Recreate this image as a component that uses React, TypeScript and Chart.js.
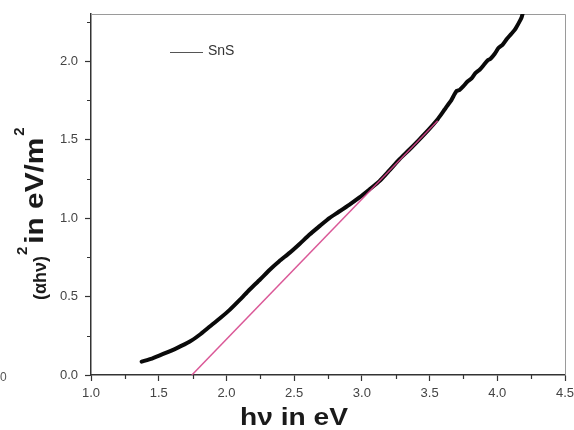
import React, { useEffect, useRef } from "react";
import { Chart, registerables } from "chart.js";

Chart.register(...registerables);

// photon energy hν (eV)
const energy = [
  1.374, 1.45, 1.533, 1.63, 1.73, 1.8, 1.877, 1.95, 2.024, 2.1, 2.17, 2.25, 2.32, 2.39,
  2.466, 2.54, 2.614, 2.69, 2.76, 2.83, 2.909, 2.98, 3.056, 3.13, 3.2, 3.277, 3.35,
  3.424, 3.49, 3.56, 3.59, 3.61, 3.63, 3.66, 3.685, 3.7, 3.72, 3.75, 3.78, 3.81, 3.84,
  3.87, 3.9, 3.93, 3.95, 3.98, 4.01, 4.04, 4.07, 4.1, 4.13, 4.16, 4.18, 4.19,
];
// (αhν)^2 values
const absorb = [
  0.085, 0.105, 0.134, 0.17, 0.213, 0.255, 0.309, 0.36, 0.415, 0.48, 0.543, 0.61, 0.671,
  0.725, 0.778, 0.835, 0.895, 0.95, 1.0, 1.04, 1.086, 1.13, 1.182, 1.235, 1.3, 1.374,
  1.435, 1.5, 1.56, 1.63, 1.665, 1.69, 1.715, 1.75, 1.79, 1.81, 1.815, 1.84, 1.87, 1.89,
  1.925, 1.945, 1.975, 2.005, 2.015, 2.045, 2.085, 2.105, 2.14, 2.17, 2.2, 2.245, 2.28, 2.31,
];
// linear fit (Tauc extrapolation)
const fitX = [1.745, 3.56];
const fitY = [0, 1.62];

const xTicks = [1.0, 1.5, 2.0, 2.5, 3.0, 3.5, 4.0, 4.5];
const yTicks = [0.0, 0.5, 1.0, 1.5, 2.0];
const xMinor = [1.25, 1.75, 2.25, 2.75, 3.25, 3.75, 4.25];
const yMinor = [0.25, 0.75, 1.25, 1.75, 2.25];

const seriesLabel = "SnS";
const xTitle = "hν in eV";

const FONT = "'Liberation Sans', Arial, sans-serif";

function stretchText(ctx: any, text: string, x: number, y: number, targetW: number) {
  const w = ctx.measureText(text).width;
  const s = targetW / w;
  ctx.save();
  ctx.translate(x, y);
  ctx.scale(s, 1);
  ctx.fillText(text, 0, 0);
  ctx.restore();
  return targetW;
}

const decorPlugin = {
  id: "decor",
  beforeDatasetsDraw(chart: any) {
    const { ctx, chartArea: a } = chart;
    ctx.save();
    ctx.strokeStyle = "#9a9a9a";
    ctx.lineWidth = 1;
    ctx.beginPath();
    ctx.moveTo(a.left, a.top + 0.5);
    ctx.lineTo(a.right + 0.5, a.top + 0.5);
    ctx.lineTo(a.right + 0.5, a.bottom);
    ctx.stroke();
    ctx.restore();
  },
  afterDraw(chart: any) {
    const { ctx, chartArea: a, scales } = chart;
    const xs = scales.x;
    const ys = scales.y;
    ctx.save();
    // minor ticks
    ctx.strokeStyle = "#333";
    ctx.lineWidth = 1.2;
    ctx.beginPath();
    xMinor.forEach((v) => {
      const px = Math.round(xs.getPixelForValue(v)) + 0.5;
      ctx.moveTo(px, a.bottom);
      ctx.lineTo(px, a.bottom + 4);
    });
    yMinor.forEach((v) => {
      const py = Math.round(ys.getPixelForValue(v)) + 0.5;
      ctx.moveTo(a.left, py);
      ctx.lineTo(a.left - 4, py);
    });
    ctx.stroke();

    // legend
    ctx.strokeStyle = "#555";
    ctx.lineWidth = 1;
    ctx.beginPath();
    ctx.moveTo(170, 52.5);
    ctx.lineTo(203, 52.5);
    ctx.stroke();
    ctx.fillStyle = "#333";
    ctx.font = `14px ${FONT}`;
    ctx.textBaseline = "middle";
    ctx.textAlign = "left";
    ctx.fillText(seriesLabel, 208, 51);

    // x title
    ctx.fillStyle = "#1a1a1a";
    ctx.font = `bold 24px ${FONT}`;
    ctx.textAlign = "left";
    ctx.textBaseline = "alphabetic";
    stretchText(ctx, xTitle, 240, 425, 108);

    // y title (rotated)
    ctx.save();
    ctx.translate(43, 300);
    ctx.rotate(-Math.PI / 2);
    ctx.textAlign = "left";
    let x = 0;
    ctx.font = `bold 18px ${FONT}`;
    x += stretchText(ctx, "(αhν)", x, 3, 44);
    x += 1;
    ctx.font = `bold 15px ${FONT}`;
    ctx.fillText("2", x, -16);
    x += ctx.measureText("2").width + 3;
    ctx.font = `bold 26px ${FONT}`;
    x += stretchText(ctx, "in eV/m", x, 0, 106);
    x += 2;
    ctx.font = `bold 15px ${FONT}`;
    ctx.fillText("2", x, -19);
    ctx.restore();

    // cropped stray label at left edge
    ctx.fillStyle = "#555";
    ctx.font = `12px ${FONT}`;
    ctx.textAlign = "left";
    ctx.textBaseline = "middle";
    ctx.fillText("0", 0, 378);
    ctx.restore();
  },
};

export default function App() {
  const ref = useRef<HTMLCanvasElement>(null);
  useEffect(() => {
    if (!ref.current) return;
    const chart = new Chart(ref.current, {
      type: "line",
      data: {
        datasets: [
          {
            label: "fit",
            data: fitX.map((v, i) => ({ x: v, y: fitY[i] })),
            borderColor: "rgba(214,70,140,0.9)",
            borderWidth: 1.5,
            pointRadius: 0,
            tension: 0,
            order: 0,
          },
          {
            label: seriesLabel,
            data: energy.map((v, i) => ({ x: v, y: absorb[i] })),
            borderColor: "#0a0a0a",
            borderWidth: 4,
            pointRadius: 0,
            tension: 0.2,
            borderCapStyle: "round",
            borderJoinStyle: "round",
            order: 1,
          },
        ],
      },
      options: {
        animation: false,
        responsive: false,
        maintainAspectRatio: false,
        layout: { padding: { top: 14, right: 9, left: 0, bottom: 0 } },
        plugins: { legend: { display: false }, tooltip: { enabled: false } },
        scales: {
          x: {
            type: "linear",
            min: 1.0,
            max: 4.5,
            afterBuildTicks: (s: any) => {
              s.ticks = xTicks.map((v) => ({ value: v }));
            },
            afterFit: (s: any) => {
              s.height = 55;
              s.paddingLeft = 0;
              s.paddingRight = 0;
            },
            ticks: {
              callback: (v: any) => Number(v).toFixed(1),
              color: "#444",
              font: { size: 13, family: FONT },
              padding: 5,
              maxRotation: 0,
            },
            grid: { drawOnChartArea: false, drawTicks: true, tickLength: 6, color: "#333", tickWidth: 1.2 },
            border: { display: true, color: "#333", width: 1.5 },
          },
          y: {
            type: "linear",
            min: 0,
            max: 2.3,
            afterBuildTicks: (s: any) => {
              s.ticks = yTicks.map((v) => ({ value: v }));
            },
            afterFit: (s: any) => {
              s.width = 91;
              s.paddingTop = 0;
              s.paddingBottom = 0;
            },
            ticks: {
              callback: (v: any) => Number(v).toFixed(1),
              color: "#444",
              font: { size: 13, family: FONT },
              padding: 7,
            },
            grid: { drawOnChartArea: false, drawTicks: true, tickLength: 6, color: "#333", tickWidth: 1.2 },
            border: { display: true, color: "#333", width: 1.5 },
          },
        },
      },
      plugins: [decorPlugin],
    } as any);
    return () => chart.destroy();
  }, []);
  return (
    <div style={{ position: "absolute", left: 0, top: 0, width: 574, height: 430, background: "#fff" }}>
      <canvas ref={ref} width={574} height={430} style={{ width: 574, height: 430 }} />
    </div>
  );
}
